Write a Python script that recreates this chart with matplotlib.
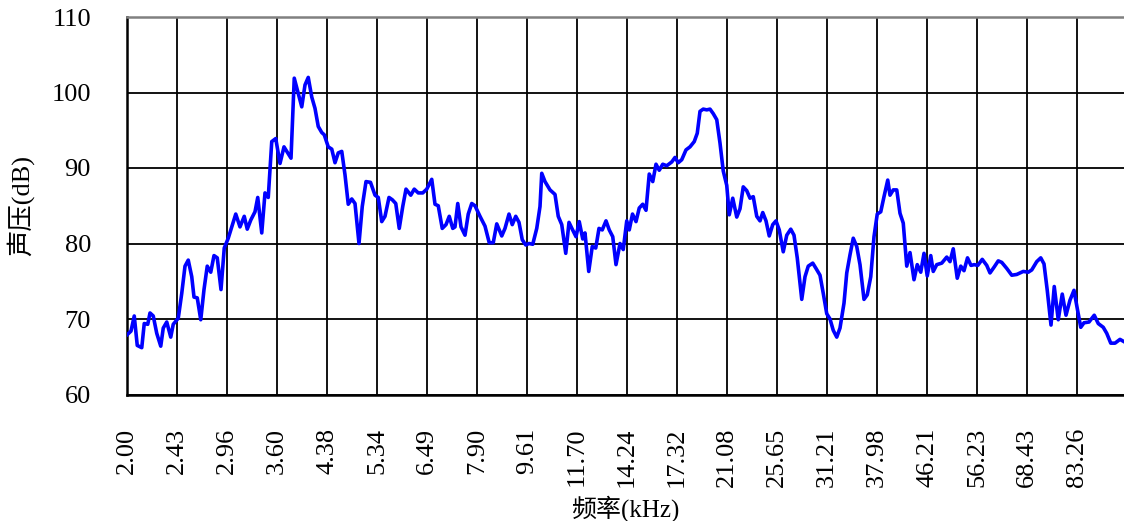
import matplotlib
matplotlib.use("Agg")
import matplotlib.pyplot as plt

plt.rcParams['font.family'] = ['Liberation Serif', 'Noto Sans CJK SC']

# 频率标签（每20个点一个）
freq_labels = ["2.00", "2.43", "2.96", "3.60", "4.38", "5.34", "6.49", "7.90",
               "9.61", "11.70", "14.24", "17.32", "21.08", "25.65", "31.21",
               "37.98", "46.21", "56.23", "68.43", "83.26"]
label_step = 20

# 测点序号与声压值 (dB)
idx = [0, 1.6, 2.9, 4.1, 5.9, 6.9, 8.3, 9.2, 10.5, 11.9, 13.5, 14.5, 15.9, 17.5, 18.5,
       20.5, 21.9, 23.2, 24.5, 25.9, 26.8, 28.1, 29.5, 30.8, 32.1, 33.5, 34.8, 36.1,
       37.6, 38.9, 40.5, 41.9, 43.5, 45.2, 46.9, 48.1, 49.5, 51.2, 52.3, 53.9, 55.2,
       56.5, 57.9, 59.5, 61.2, 62.8, 63.9, 65.6, 66.9, 68.3, 69.9, 71.2, 72.5, 73.9,
       75.2, 76.5, 77.9, 78.9, 80.5, 81.9, 83.2, 84.5, 85.9, 87.2, 88.5, 89.9, 91.2,
       92.8, 94.1, 95.6, 97.4, 99.2, 100.5,
       101.9, 103.2, 104.8, 106.1, 107.5, 108.9, 110.3, 111.6, 113.5, 114.9, 116.5,
       118.3, 119.9, 121.9, 123.2, 124.5, 126.1, 127.6, 128.9, 130.3, 131.2, 132.3,
       133.6, 135.2, 136.5, 137.9, 139.2, 141.2, 143.2, 144.9, 146.5, 147.9, 149.9,
       151.2, 152.8, 154.1, 155.5, 156.8, 158.1, 159.5, 160.8, 162.3, 163.9, 165.2,
       165.9, 167.2, 169.2, 171.2, 172.5, 173.9, 175.5, 176.8, 178.1, 179.6, 180.9,
       182.3, 183.2, 184.7, 186.1, 187.5, 188.8, 190.1, 191.6, 192.9, 194.3, 195.6,
       197.2, 198.5, 199.9, 200.9, 202.2, 203.6, 204.9, 206.3, 207.6, 208.9, 210.3,
       211.6, 212.9, 214.3, 215.9, 217.9, 219.2, 220.5, 221.9, 223.6, 225.2, 226.9,
       228.1, 229.2, 230.5, 231.9, 233.2, 234.5, 235.9,
       237.2, 238.5, 239.9, 240.9, 242.3, 243.9, 245.2, 246.5, 247.9, 249.2, 250.5,
       251.9, 253.2, 254.3, 255.6, 256.9, 258.3, 259.6, 260.9, 262.5, 263.9, 265.5,
       266.8, 268.1, 269.9, 271.2, 272.5, 274.3, 275.6, 277.2, 278.5, 279.9, 281.2,
       282.5, 283.9, 285.2, 286.8, 287.9, 289.2, 290.5, 291.9, 293.2, 294.8, 296.1,
       297.5, 298.8, 300.1, 301.5, 302.8, 304.3, 305.2, 306.5, 307.9, 309.2, 310.5,
       311.9, 313.2, 314.8, 316.1, 317.5, 318.8, 320.1, 321.5, 322.5, 323.9, 325.9,
       327.9, 329.2, 330.5, 332.1, 333.5, 334.8, 336.2,
       337.6, 338.9, 340.3, 342.1, 343.9, 345.2, 346.9, 348.5, 349.9, 351.9, 353.9,
       355.9, 358.5, 360.5, 361.9, 363.9, 365.5, 366.8, 368.1, 369.6, 370.9, 372.5,
       374.1, 375.6, 377.2, 378.8, 380.1, 381.5, 382.8, 384.8, 386.9, 388.5, 390.5,
       391.9, 393.5, 395.2, 397.2, 398.8]

spl = [67.9, 68.4, 70.4, 66.5, 66.2, 69.4, 69.3, 70.8, 70.4, 68.1, 66.4, 68.8, 69.6, 67.6, 69.3,
       70.1, 73.4, 77.0, 77.8, 75.6, 72.9, 72.8, 69.9, 73.9, 77.0, 76.2, 78.4, 78.1,
       73.9, 79.4, 80.7, 82.2, 83.9, 82.2, 83.6, 81.9, 83.1, 84.2, 86.1, 81.4, 86.7,
       86.1, 93.5, 93.9, 90.6, 92.8, 92.2, 91.3, 101.9, 100.1, 98.1, 101.0, 102.0, 99.4,
       97.9, 95.5, 94.7, 94.4, 92.8, 92.5, 90.7, 92.0, 92.2, 89.1, 85.2, 85.9, 85.3,
       80.0, 84.9, 88.2, 88.1, 86.4, 86.1,
       82.9, 83.6, 86.1, 85.8, 85.3, 82.0, 84.9, 87.2, 86.4, 87.2, 86.7,
       86.7, 87.2, 88.5, 85.2, 85.0, 82.0, 82.5, 83.6, 82.0, 82.2, 85.3,
       82.2, 81.1, 83.9, 85.3, 85.0, 83.6, 82.3, 80.1, 80.1, 82.6, 81.0,
       82.0, 83.9, 82.5, 83.6, 82.8, 80.5, 79.8, 80.0, 79.9, 82.0, 84.9,
       89.3, 88.2, 87.1, 86.5, 83.6, 82.5, 78.7, 82.8, 81.9, 80.9, 82.9,
       80.6, 81.4, 76.3, 79.6, 79.4, 82.0, 81.8, 83.0, 81.8, 80.9, 77.2,
       80.0, 79.2, 83.0, 81.8, 83.9, 82.9, 84.7, 85.2, 84.4, 89.2, 88.2,
       90.5, 89.7, 90.5, 90.3, 90.8, 91.4, 90.7, 91.1, 92.4, 92.8, 93.5,
       94.6, 97.5, 97.8, 97.7, 97.8, 97.2, 96.4,
       93.3, 89.6, 87.7, 83.8, 86.0, 83.5, 84.6, 87.5, 87.0, 86.0, 86.2,
       83.6, 83.0, 84.1, 83.0, 81.0, 82.5, 83.0, 81.8, 78.9, 81.1, 81.9,
       81.1, 78.1, 72.6, 75.6, 77.0, 77.4, 76.7, 75.8, 73.4, 70.7, 70.0,
       68.5, 67.6, 68.8, 72.1, 76.1, 78.5, 80.7, 79.6, 77.2, 72.6, 73.2,
       75.6, 80.9, 83.9, 84.2, 86.2, 88.4, 86.4, 87.1, 87.1, 84.0, 82.7,
       77.0, 78.8, 75.2, 77.2, 76.2, 78.7, 75.7, 78.4, 76.3, 77.2, 77.4,
       78.2, 77.6, 79.3, 75.4, 77.0, 76.4, 78.1,
       77.1, 77.2, 77.1, 77.9, 77.1, 76.1, 76.9, 77.7, 77.5, 76.7, 75.8,
       75.9, 76.3, 76.2, 76.5, 77.6, 78.1, 77.3, 73.8, 69.2, 74.3, 69.9,
       73.3, 70.5, 72.5, 73.8, 71.4, 68.9, 69.5, 69.6, 70.5, 69.4, 68.9,
       68.1, 66.8, 66.8, 67.3, 67.0]

fig = plt.figure(figsize=(11.24, 5.21), dpi=100)
ax = fig.add_axes([127 / 1124, 126.5 / 521, 997 / 1124, 377.5 / 521])

ax.plot(idx, spl, color='#0000FF', lw=2.6, solid_joinstyle='round', zorder=3)

ax.set_xlim(0, idx[-1])
ax.set_ylim(60, 110)
ax.set_yticks(range(60, 111, 10))
ax.set_xticks([i * label_step for i in range(len(freq_labels))])
ax.set_xticklabels(freq_labels, rotation=90)

ax.grid(True, color='black', lw=1.3)
ax.set_axisbelow(True)
ax.tick_params(length=0, labelsize=19)
ax.tick_params(axis='y', pad=26)
ax.tick_params(axis='x', pad=24)

for s in ['left', 'bottom']:
    ax.spines[s].set_color('black')
    ax.spines[s].set_linewidth(1.8)
ax.spines['top'].set_color('#808080')
ax.spines['top'].set_linewidth(1.8)
ax.spines['right'].set_visible(False)

ax.set_ylabel('声压(dB)', fontsize=19)
ax.yaxis.set_label_coords(-0.093, 0.5)
ax.set_xlabel('频率(kHz)', fontsize=18, va='bottom')
ax.xaxis.set_label_coords(0.5, -0.337)

fig.savefig('out.png', dpi=100)
